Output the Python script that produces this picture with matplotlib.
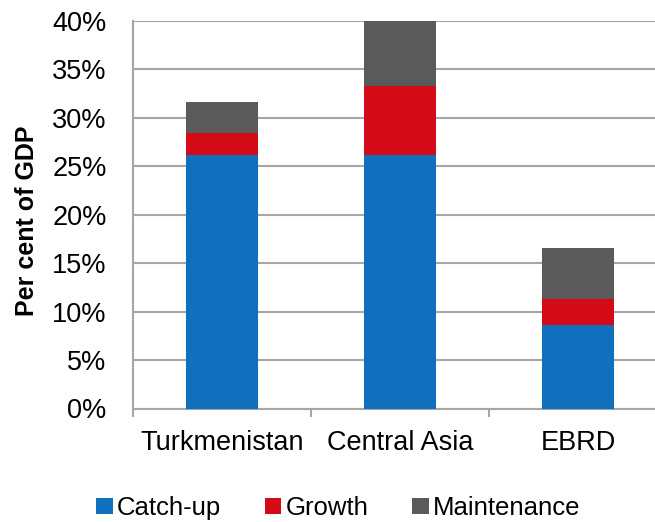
import matplotlib
matplotlib.use("Agg")
import matplotlib.pyplot as plt
from matplotlib.ticker import FixedLocator, PercentFormatter

categories = ["Turkmenistan", "Central Asia", "EBRD"]
catch_up = [26.2, 26.2, 8.6]
growth = [2.2, 7.1, 2.7]
maintenance = [3.2, 6.7, 5.3]
series_names = ["Catch-up", "Growth", "Maintenance"]
colors = ["#1070BE", "#D40A16", "#5A5A5A"]
yticks = [0, 5, 10, 15, 20, 25, 30, 35, 40]

plt.rcParams['font.family'] = ['Liberation Sans', 'DejaVu Sans']

W, H = 655, 522
fig = plt.figure(figsize=(W / 100, H / 100), dpi=100)
left_px = 133
bottom_px = 408.5
top_px = 21
right_px = 690
spacing = 178
ax = fig.add_axes([left_px / W, (H - bottom_px) / H, (right_px - left_px) / W,
                   (bottom_px - top_px) / H])

x = list(range(len(categories)))
bw = 0.40
b1 = [0] * len(x)
b2 = [c for c in catch_up]
b3 = [c + g for c, g in zip(catch_up, growth)]
ax.bar(x, catch_up, bw, bottom=b1, color=colors[0], label=series_names[0], zorder=3)
ax.bar(x, growth, bw, bottom=b2, color=colors[1], label=series_names[1], zorder=3)
ax.bar(x, maintenance, bw, bottom=b3, color=colors[2], label=series_names[2], zorder=3)

ax.set_xlim(-0.5, -0.5 + (right_px - left_px) / spacing)
ax.set_ylim(0, 40)
ax.set_yticks(yticks)
ax.yaxis.set_major_formatter(PercentFormatter(decimals=0))
ax.set_xticks(x)
ax.set_xticklabels(categories, fontsize=19.5)
ax.xaxis.set_minor_locator(FixedLocator([-0.5, 0.5, 1.5]))
ax.tick_params(axis='x', which='major', length=0, pad=15.5)
ax.tick_params(axis='x', which='minor', length=6, width=1.5, color="#A6A6A6", direction='out')
ax.tick_params(axis='y', length=0, pad=19, labelsize=19.5)

ax.grid(axis='y', color="#A6A6A6", linewidth=1.5, zorder=0)
for s in ['top', 'right']:
    ax.spines[s].set_visible(False)
for s in ['left', 'bottom']:
    ax.spines[s].set_color("#A6A6A6")
    ax.spines[s].set_linewidth(1.5)

fig.text(27 / W, 1 - 221 / H, "Per cent of GDP", rotation=90, fontsize=18,
         fontweight='bold', ha='center', va='center')

handles, labels = ax.get_legend_handles_labels()
fig.legend(handles, labels, loc='center', bbox_to_anchor=(338 / W, 1 - 508 / H),
           ncol=3, frameon=False, fontsize=18.5, handlelength=0.66, handleheight=0.62,
           handletextpad=0.15, columnspacing=1.7, borderaxespad=0, borderpad=0)

fig.savefig("out.png", dpi=100)
